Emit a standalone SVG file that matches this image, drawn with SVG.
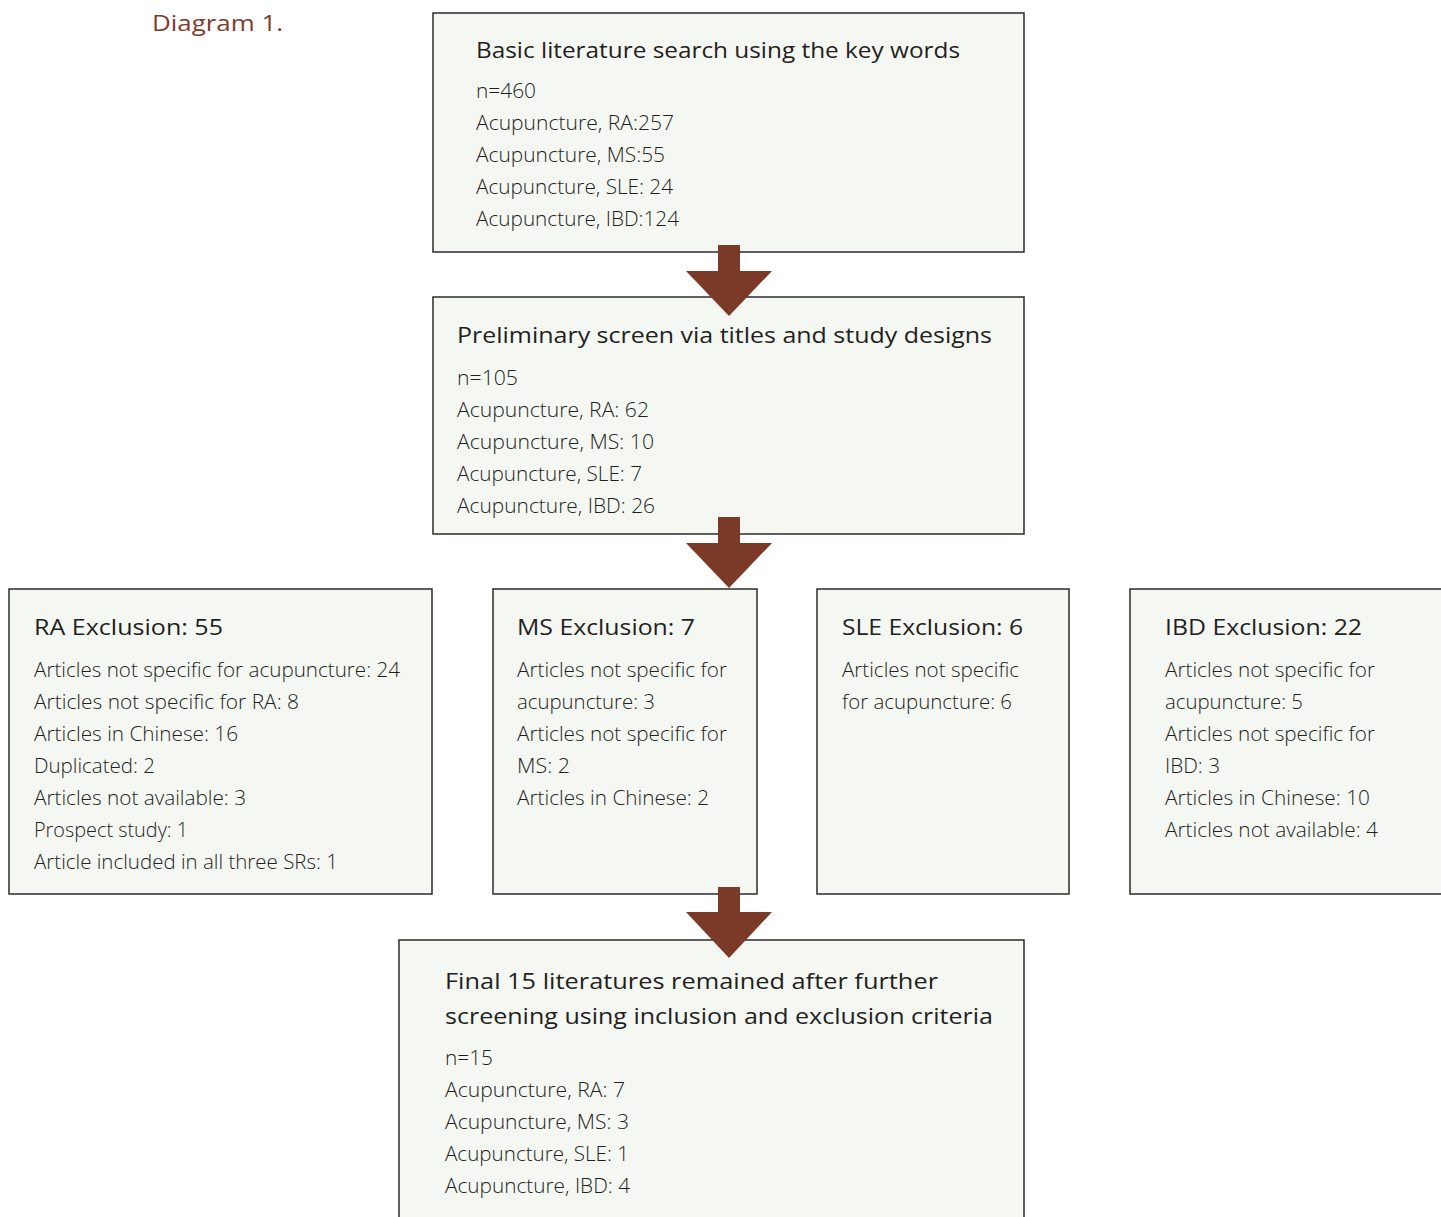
<svg xmlns="http://www.w3.org/2000/svg" width="1441" height="1217" viewBox="0 0 1441 1217">
<style>
.box{fill:#f5f7f3;stroke:#2b2b2b;stroke-width:1.5}
.t{font-family:"Open Sans","Noto Sans","Liberation Sans",sans-serif;font-size:22px;font-weight:500;fill:#231f20}
.b{font-family:"Open Sans","Noto Sans","Liberation Sans",sans-serif;font-size:21px;font-weight:300;fill:#231f20}
.cap{font-family:"Open Sans","Noto Sans","Liberation Sans",sans-serif;font-size:22px;fill:#7d3b2a}
.arr{fill:#7b3a27}
</style>
<rect width="1441" height="1217" fill="#ffffff"/>
<text class="cap" x="152" y="31" textLength="131" lengthAdjust="spacingAndGlyphs">Diagram 1.</text>

<g id="search">
<rect class="box" x="433" y="13" width="591" height="239"/>
<text class="t" x="476" y="58" textLength="484" lengthAdjust="spacingAndGlyphs">Basic literature search using the key words</text>
<text class="b" x="476" y="98" textLength="60" lengthAdjust="spacingAndGlyphs">n=460</text>
<text class="b" x="476" y="130" textLength="198" lengthAdjust="spacingAndGlyphs">Acupuncture, RA:257</text>
<text class="b" x="476" y="162" textLength="189" lengthAdjust="spacingAndGlyphs">Acupuncture, MS:55</text>
<text class="b" x="476" y="194" textLength="197" lengthAdjust="spacingAndGlyphs">Acupuncture, SLE: 24</text>
<text class="b" x="476" y="226" textLength="203" lengthAdjust="spacingAndGlyphs">Acupuncture, IBD:124</text>
</g>

<g id="screen">
<rect class="box" x="433" y="297" width="591" height="237"/>
<text class="t" x="457" y="343" textLength="535" lengthAdjust="spacingAndGlyphs">Preliminary screen via titles and study designs</text>
<text class="b" x="457" y="385" textLength="61" lengthAdjust="spacingAndGlyphs">n=105</text>
<text class="b" x="457" y="417" textLength="192" lengthAdjust="spacingAndGlyphs">Acupuncture, RA: 62</text>
<text class="b" x="457" y="449" textLength="197" lengthAdjust="spacingAndGlyphs">Acupuncture, MS: 10</text>
<text class="b" x="457" y="481" textLength="185" lengthAdjust="spacingAndGlyphs">Acupuncture, SLE: 7</text>
<text class="b" x="457" y="513" textLength="198" lengthAdjust="spacingAndGlyphs">Acupuncture, IBD: 26</text>
</g>

<g id="ra">
<rect class="box" x="9" y="589" width="423" height="305"/>
<text class="t" x="34" y="635" textLength="189" lengthAdjust="spacingAndGlyphs">RA Exclusion: 55</text>
<text class="b" x="34" y="677" textLength="366" lengthAdjust="spacingAndGlyphs">Articles not specific for acupuncture: 24</text>
<text class="b" x="34" y="709" textLength="265" lengthAdjust="spacingAndGlyphs">Articles not specific for RA: 8</text>
<text class="b" x="34" y="741" textLength="204" lengthAdjust="spacingAndGlyphs">Articles in Chinese: 16</text>
<text class="b" x="34" y="773" textLength="121" lengthAdjust="spacingAndGlyphs">Duplicated: 2</text>
<text class="b" x="34" y="805" textLength="212" lengthAdjust="spacingAndGlyphs">Articles not available: 3</text>
<text class="b" x="34" y="837" textLength="154" lengthAdjust="spacingAndGlyphs">Prospect study: 1</text>
<text class="b" x="34" y="869" textLength="304" lengthAdjust="spacingAndGlyphs">Article included in all three SRs: 1</text>
</g>

<g id="ms">
<rect class="box" x="493" y="589" width="264" height="305"/>
<text class="t" x="517" y="635" textLength="178" lengthAdjust="spacingAndGlyphs">MS Exclusion: 7</text>
<text class="b" x="517" y="677" textLength="210" lengthAdjust="spacingAndGlyphs">Articles not specific for</text>
<text class="b" x="517" y="709" textLength="138" lengthAdjust="spacingAndGlyphs">acupuncture: 3</text>
<text class="b" x="517" y="741" textLength="210" lengthAdjust="spacingAndGlyphs">Articles not specific for</text>
<text class="b" x="517" y="773" textLength="53" lengthAdjust="spacingAndGlyphs">MS: 2</text>
<text class="b" x="517" y="805" textLength="192" lengthAdjust="spacingAndGlyphs">Articles in Chinese: 2</text>
</g>

<g id="sle">
<rect class="box" x="817" y="589" width="252" height="305"/>
<text class="t" x="842" y="635" textLength="181" lengthAdjust="spacingAndGlyphs">SLE Exclusion: 6</text>
<text class="b" x="842" y="677" textLength="177" lengthAdjust="spacingAndGlyphs">Articles not specific</text>
<text class="b" x="842" y="709" textLength="170" lengthAdjust="spacingAndGlyphs">for acupuncture: 6</text>
</g>

<g id="ibd">
<rect class="box" x="1130" y="589" width="330" height="305"/>
<text class="t" x="1165" y="635" textLength="197" lengthAdjust="spacingAndGlyphs">IBD Exclusion: 22</text>
<text class="b" x="1165" y="677" textLength="210" lengthAdjust="spacingAndGlyphs">Articles not specific for</text>
<text class="b" x="1165" y="709" textLength="138" lengthAdjust="spacingAndGlyphs">acupuncture: 5</text>
<text class="b" x="1165" y="741" textLength="210" lengthAdjust="spacingAndGlyphs">Articles not specific for</text>
<text class="b" x="1165" y="773" textLength="55" lengthAdjust="spacingAndGlyphs">IBD: 3</text>
<text class="b" x="1165" y="805" textLength="205" lengthAdjust="spacingAndGlyphs">Articles in Chinese: 10</text>
<text class="b" x="1165" y="837" textLength="213" lengthAdjust="spacingAndGlyphs">Articles not available: 4</text>
</g>

<g id="final">
<rect class="box" x="399" y="940" width="625" height="300"/>
<text class="t" x="445" y="989" textLength="493" lengthAdjust="spacingAndGlyphs">Final 15 literatures remained after further</text>
<text class="t" x="445" y="1024" textLength="548" lengthAdjust="spacingAndGlyphs">screening using inclusion and exclusion criteria</text>
<text class="b" x="445" y="1065" textLength="48" lengthAdjust="spacingAndGlyphs">n=15</text>
<text class="b" x="445" y="1097" textLength="180" lengthAdjust="spacingAndGlyphs">Acupuncture, RA: 7</text>
<text class="b" x="445" y="1129" textLength="184" lengthAdjust="spacingAndGlyphs">Acupuncture, MS: 3</text>
<text class="b" x="445" y="1161" textLength="184" lengthAdjust="spacingAndGlyphs">Acupuncture, SLE: 1</text>
<text class="b" x="445" y="1193" textLength="185" lengthAdjust="spacingAndGlyphs">Acupuncture, IBD: 4</text>
</g>

<g id="connectors">
<polygon class="arr" points="718,245 740,245 740,271 772,271 729,316 686,271 718,271"/>
<polygon class="arr" points="718,517 740,517 740,543 772,543 729,588 686,543 718,543"/>
<polygon class="arr" points="718,887 740,887 740,912 772,912 729,958 686,912 718,912"/>
</g>
</svg>
